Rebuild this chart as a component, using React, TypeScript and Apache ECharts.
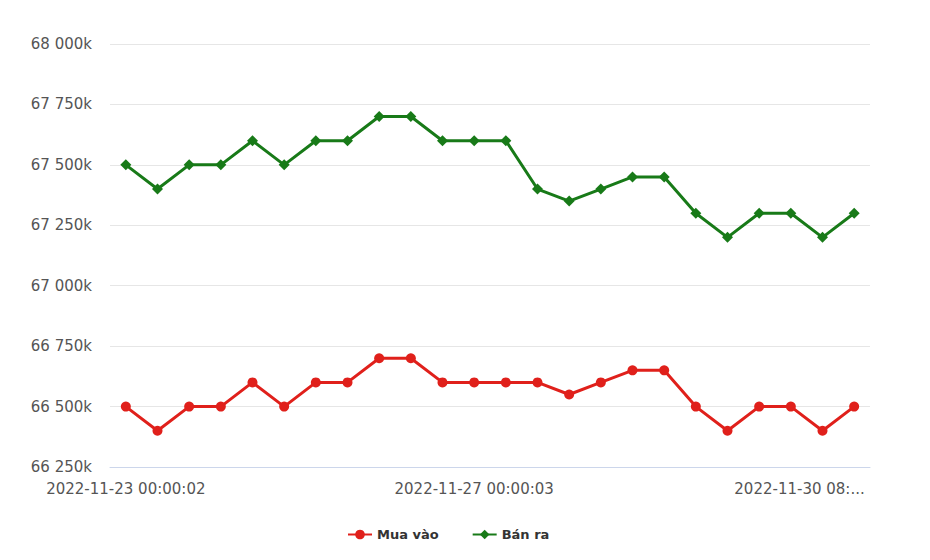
import React, { useEffect, useRef } from "react";
import * as echarts from "echarts";

const categories: string[] = [
  "2022-11-23 00:00:02",
  "2022-11-23 08:00:02",
  "2022-11-23 16:00:02",
  "2022-11-24 00:00:02",
  "2022-11-24 08:00:03",
  "2022-11-24 16:00:02",
  "2022-11-25 08:00:02",
  "2022-11-25 16:00:03",
  "2022-11-26 00:00:02",
  "2022-11-26 08:00:02",
  "2022-11-26 16:00:02",
  "2022-11-27 00:00:03",
  "2022-11-27 08:00:02",
  "2022-11-27 16:00:02",
  "2022-11-28 00:00:02",
  "2022-11-28 08:00:03",
  "2022-11-28 16:00:02",
  "2022-11-29 00:00:02",
  "2022-11-29 08:00:02",
  "2022-11-29 12:00:02",
  "2022-11-29 16:00:03",
  "2022-11-30 00:00:02",
  "2022-11-30 08:00:02",
  "2022-11-30 16:00:02",
];

const muaVao: number[] = [
  66500000, 66400000, 66500000, 66500000, 66600000, 66500000, 66600000, 66600000,
  66700000, 66700000, 66600000, 66600000, 66600000, 66600000, 66550000, 66600000,
  66650000, 66650000, 66500000, 66400000, 66500000, 66500000, 66400000, 66500000,
];

const banRa: number[] = [
  67500000, 67400000, 67500000, 67500000, 67600000, 67500000, 67600000, 67600000,
  67700000, 67700000, 67600000, 67600000, 67600000, 67400000, 67350000, 67400000,
  67450000, 67450000, 67300000, 67200000, 67300000, 67300000, 67200000, 67300000,
];

const shownLabelIndexes: number[] = [0, 11, 22];
const truncatedLabels: Record<number, string> = { 22: "2022-11-30 08:..." };

const Y_MIN = 66250000;
const Y_MAX = 68000000;
const Y_STEP = 250000;

function formatK(v: number): string {
  const k = Math.round(v / 1000);
  return k.toString().replace(/\B(?=(\d{3})+(?!\d))/g, " ") + "k";
}

export default function App() {
  const ref = useRef<HTMLDivElement>(null);
  useEffect(() => {
    document.body.style.margin = "0";
    if (!ref.current) return;
    const chart = echarts.init(ref.current, undefined, { renderer: "svg" });
    const font = "DejaVu Sans";
    chart.setOption({
      animation: false,
      backgroundColor: "#ffffff",
      grid: { left: 110, right: 60, top: 44, bottom: 93 },
      xAxis: {
        type: "category",
        data: categories,
        boundaryGap: true,
        axisLine: { show: true, lineStyle: { color: "#ccd6eb", width: 1 } },
        axisTick: { show: false },
        axisLabel: {
          margin: 14,
          color: "#555555",
          fontFamily: font,
          fontSize: 15,
          interval: (idx: number) => shownLabelIndexes.includes(idx),
          formatter: (val: string, idx: number) => {
            if (truncatedLabels[idx]) return "{r|" + truncatedLabels[idx] + "}";
            return val;
          },
          rich: {
            r: {
              color: "#555555",
              fontFamily: font,
              fontSize: 15,
              padding: [0, 46, 0, 0],
            },
          },
        },
        splitLine: { show: false },
      },
      yAxis: {
        type: "value",
        min: Y_MIN,
        max: Y_MAX,
        interval: Y_STEP,
        axisLine: { show: false },
        axisTick: { show: false },
        axisLabel: {
          margin: 18,
          color: "#555555",
          fontFamily: font,
          fontSize: 15,
          formatter: (v: number) => formatK(v),
        },
        splitLine: { show: true, lineStyle: { color: "#e6e6e6", width: 1 } },
      },
      legend: {
        bottom: 14,
        left: 342,
        itemWidth: 24,
        itemHeight: 12,
        itemGap: 33,
        textStyle: {
          color: "#333333",
          fontFamily: font,
          fontSize: 13,
          fontWeight: "bold",
        },
        data: ["Mua vào", "Bán ra"],
      },
      series: [
        {
          name: "Mua vào",
          type: "line",
          data: muaVao,
          symbol: "circle",
          symbolSize: 10,
          color: "#e0201b",
          lineStyle: { width: 3, color: "#e0201b" },
          itemStyle: { color: "#e0201b" },
        },
        {
          name: "Bán ra",
          type: "line",
          data: banRa,
          symbol: "diamond",
          symbolSize: 11,
          color: "#187a18",
          lineStyle: { width: 3, color: "#187a18" },
          itemStyle: { color: "#187a18" },
        },
      ],
    });
    return () => chart.dispose();
  }, []);
  return <div ref={ref} style={{ width: 930, height: 560 }} />;
}
